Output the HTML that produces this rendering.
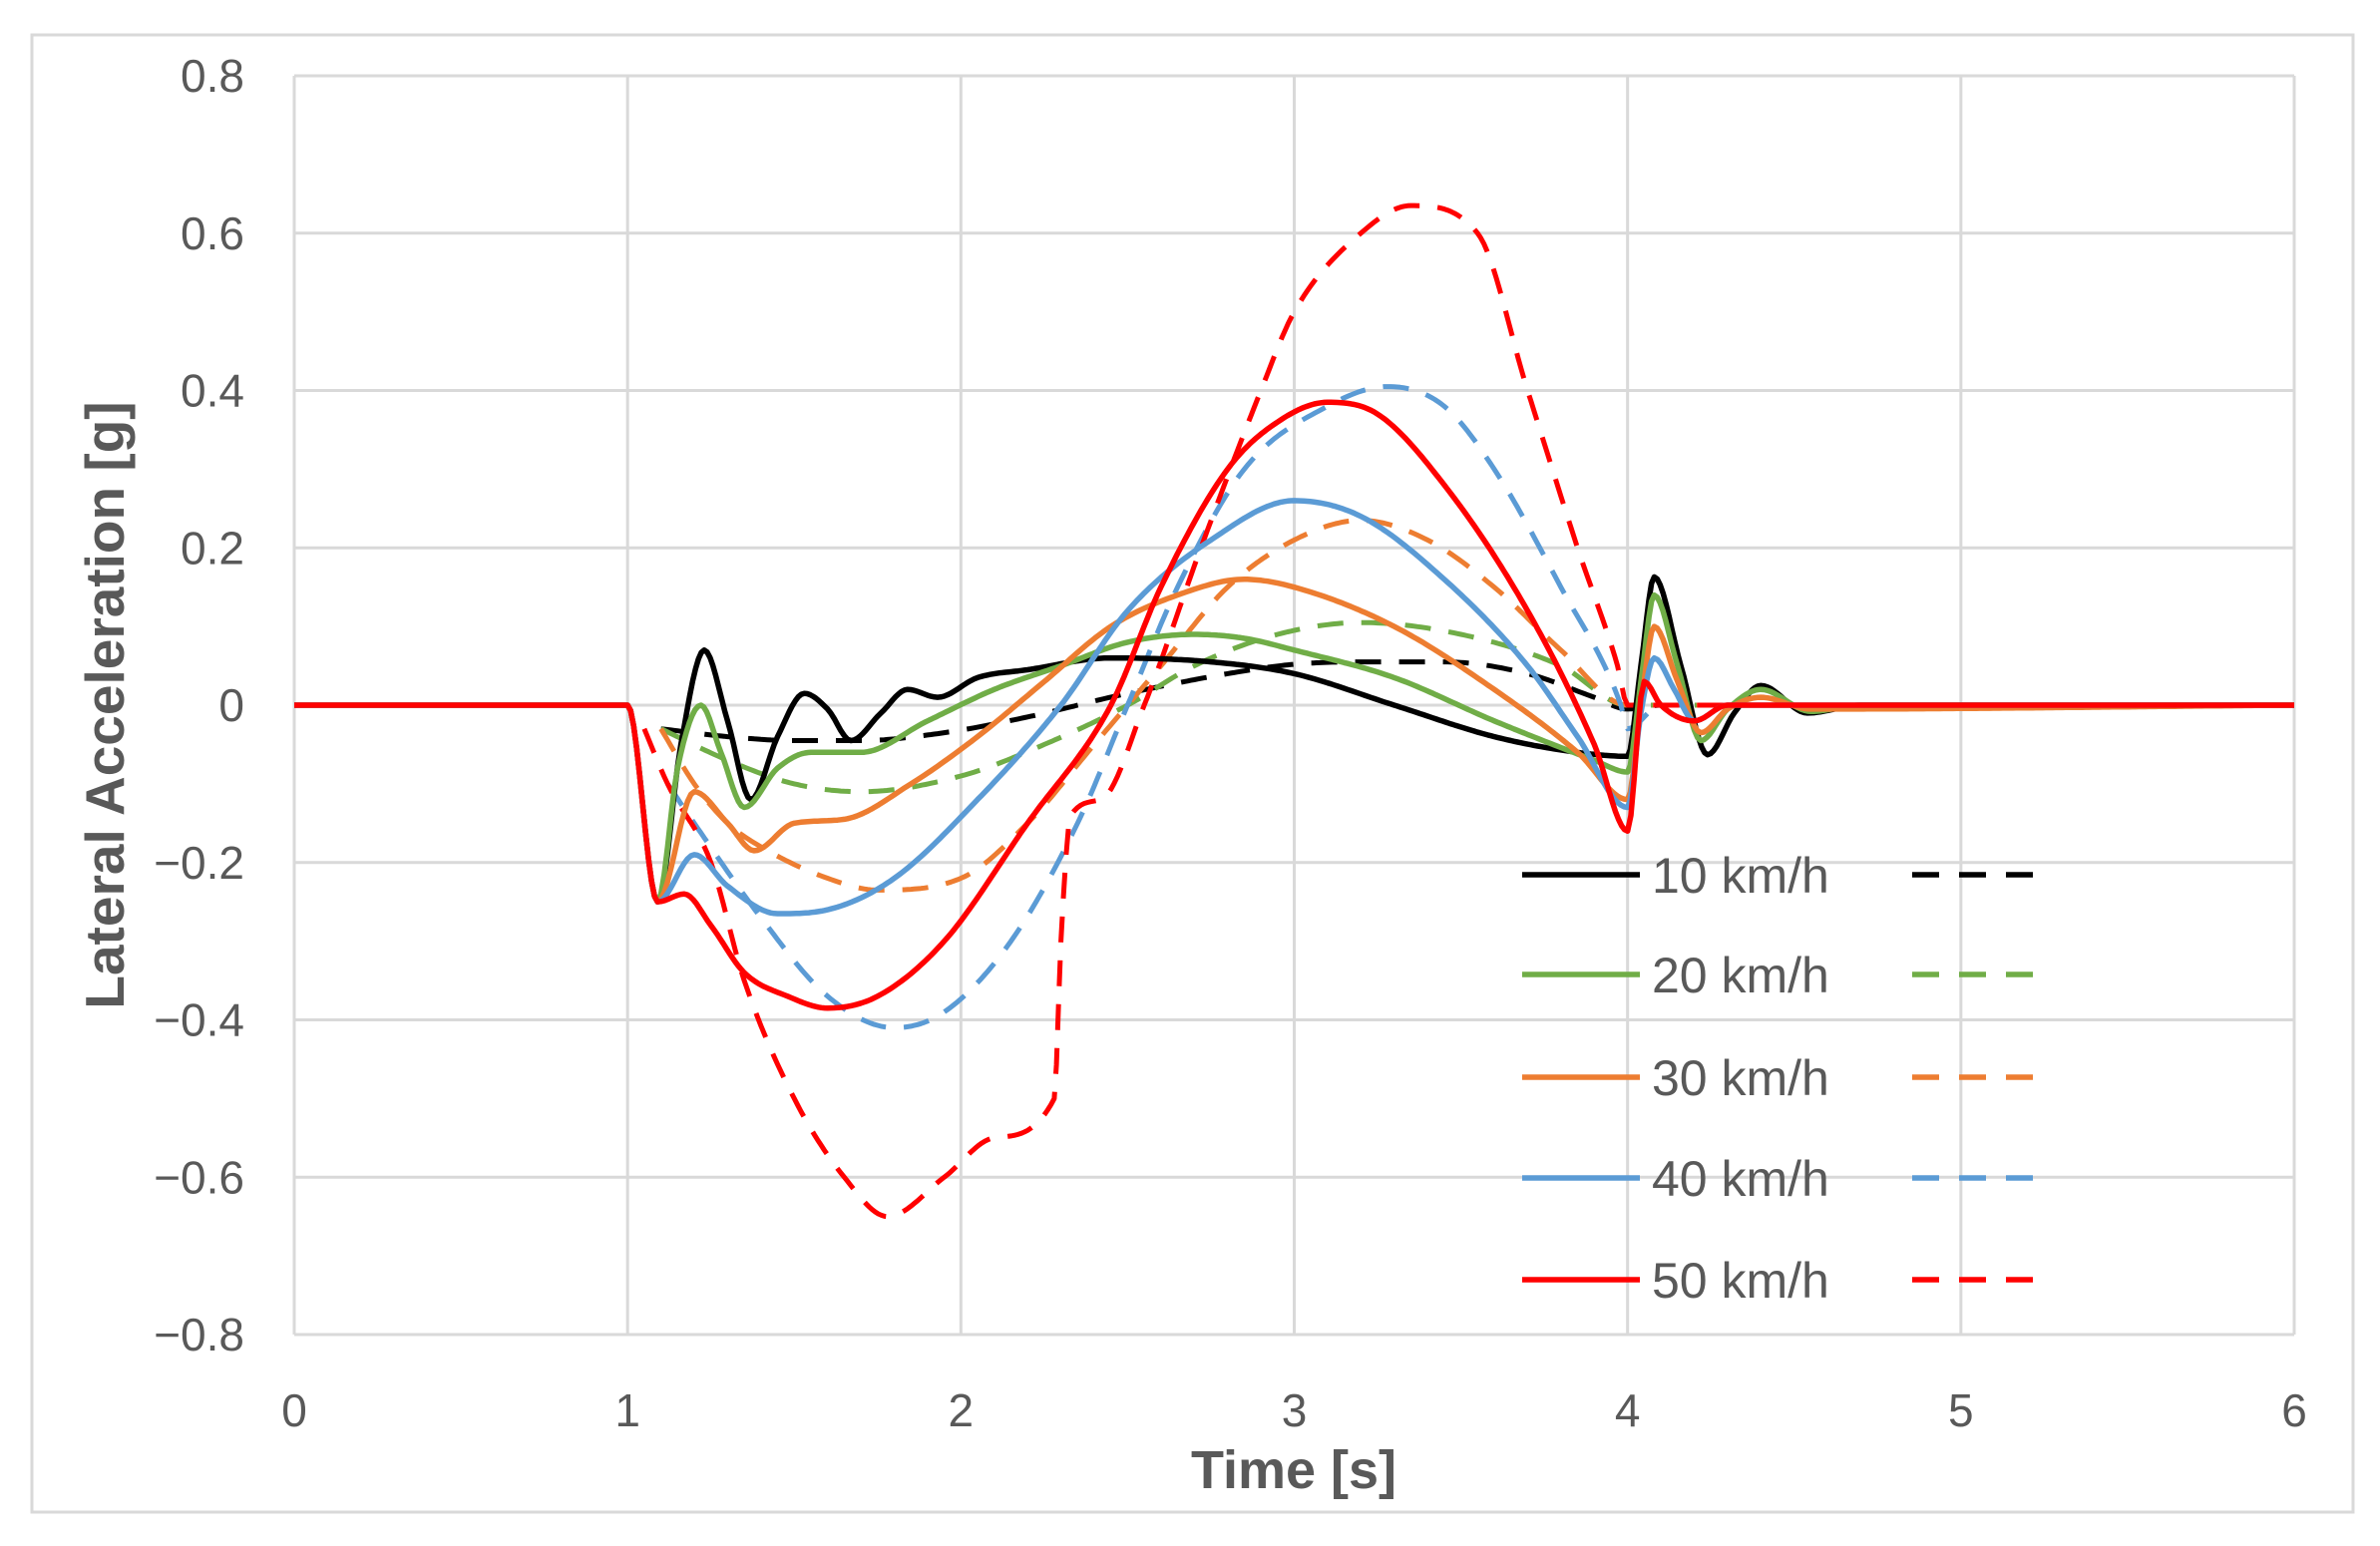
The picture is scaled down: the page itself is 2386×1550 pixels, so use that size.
<!DOCTYPE html>
<html><head><meta charset="utf-8"><style>
html,body{margin:0;padding:0;background:#fff;}
svg{display:block;font-family:"Liberation Sans",sans-serif;}
</style></head><body>
<svg id="chart" width="2386" height="1550" viewBox="0 0 2386 1550" xmlns="http://www.w3.org/2000/svg">
<rect x="32" y="35" width="2327" height="1481" fill="#fff" stroke="#d9d9d9" stroke-width="3"/>
<g id="grid"></g>
<g id="series"></g>
<g id="legend"></g>
<text transform="translate(124,707) rotate(-90)" text-anchor="middle" font-size="55" font-weight="bold" fill="#595959">Lateral Acceleration [g]</text>
<text x="1297" y="1492" text-anchor="middle" font-size="54" font-weight="bold" fill="#595959">Time [s]</text>
</svg>
<script>
const xTicks=[0,1,2,3,4,5,6];
const yTicks=[0.8,0.6,0.4,0.2,0,-0.2,-0.4,-0.6,-0.8];
const yTickLabels=["0.8","0.6","0.4","0.2","0","\u22120.2","\u22120.4","\u22120.6","\u22120.8"];
const legendLabels=["10 km/h","20 km/h","30 km/h","40 km/h","50 km/h"];
const colors=["#000000","#70AD47","#ED7D31","#5B9BD5","#FF0000"];
const s10t=[0,1.0,1.09,1.16,1.23,1.3,1.37,1.45,1.53,1.6,1.67,1.76,1.84,1.93,2.05,2.2,2.45,2.75,3.0,3.3,3.6,3.85,4.0,4.04,4.08,4.16,4.24,4.32,4.4,4.54,4.7,6];
const s10v=[0,0,-0.25,-0.05,0.07,-0.02,-0.12,-0.04,0.015,-0.005,-0.045,-0.01,0.02,0.01,0.035,0.045,0.06,0.055,0.04,0.0,-0.04,-0.06,-0.065,0.05,0.163,0.05,-0.063,-0.01,0.025,-0.01,0,0];
const d10t=[1.1,1.3,1.5,1.7,1.95,2.2,2.5,2.8,3.0,3.2,3.45,3.7,3.9,4.0,4.1,4.5];
const d10v=[-0.03,-0.04,-0.045,-0.045,-0.035,-0.015,0.015,0.04,0.052,0.055,0.055,0.04,0.01,-0.005,0,0];
const s20t=[0,1.0,1.09,1.15,1.22,1.28,1.35,1.45,1.55,1.7,1.9,2.1,2.3,2.5,2.7,2.85,3.0,3.3,3.6,3.9,4.0,4.04,4.08,4.15,4.22,4.3,4.4,4.55,4.7,6];
const s20v=[0,0,-0.25,-0.08,0.0,-0.06,-0.13,-0.08,-0.06,-0.06,-0.02,0.02,0.05,0.08,0.09,0.085,0.07,0.035,-0.02,-0.07,-0.085,0.03,0.14,0.05,-0.045,-0.005,0.02,-0.008,0,0];
const d20t=[1.1,1.3,1.5,1.7,2.0,2.25,2.5,2.7,2.95,3.2,3.5,3.8,4.0,4.1,4.5];
const d20v=[-0.03,-0.07,-0.1,-0.11,-0.09,-0.05,0.0,0.05,0.09,0.105,0.09,0.05,0.0,0,0];
const s30t=[0,1.0,1.09,1.2,1.3,1.38,1.5,1.65,1.85,2.05,2.25,2.45,2.65,2.85,3.0,3.3,3.6,3.85,4.0,4.04,4.08,4.15,4.22,4.3,4.4,4.55,6];
const s30v=[0,0,-0.25,-0.11,-0.15,-0.185,-0.15,-0.145,-0.1,-0.04,0.03,0.1,0.14,0.16,0.15,0.1,0.02,-0.06,-0.12,0.0,0.1,0.03,-0.035,-0.005,0.01,-0.005,0];
const d30t=[1.1,1.2,1.3,1.4,1.6,1.75,2.0,2.2,2.4,2.6,2.8,3.0,3.2,3.4,3.6,3.8,4.0,4.1,4.5];
const d30v=[-0.03,-0.1,-0.15,-0.18,-0.22,-0.235,-0.22,-0.15,-0.05,0.05,0.15,0.21,0.235,0.21,0.15,0.07,0.0,0,0];
const s40t=[0,1.0,1.09,1.2,1.3,1.45,1.6,1.8,2.05,2.3,2.5,2.75,3.0,3.2,3.45,3.7,3.85,4.0,4.04,4.08,4.14,4.2,4.3,6];
const s40v=[0,0,-0.25,-0.19,-0.23,-0.265,-0.26,-0.22,-0.12,0.0,0.12,0.21,0.26,0.24,0.16,0.05,-0.04,-0.13,-0.01,0.06,0.02,-0.02,0.0,0];
const d40t=[1.12,1.2,1.4,1.6,1.8,1.95,2.15,2.35,2.5,2.65,2.85,3.1,3.28,3.45,3.6,3.8,3.98,4.0,4.1,4.5];
const d40v=[-0.1,-0.15,-0.27,-0.37,-0.41,-0.39,-0.3,-0.15,0.0,0.15,0.3,0.38,0.405,0.38,0.3,0.15,0.0,-0.03,0,0];
const s50t=[0,1.0,1.09,1.17,1.25,1.35,1.48,1.6,1.75,1.95,2.2,2.45,2.6,2.8,2.95,3.1,3.25,3.45,3.7,3.9,4.0,4.05,4.1,4.2,4.3,6];
const s50v=[0,0,-0.25,-0.24,-0.28,-0.34,-0.37,-0.385,-0.37,-0.3,-0.15,0.0,0.15,0.3,0.36,0.385,0.37,0.28,0.12,-0.05,-0.16,0.03,0.0,-0.02,0.0,0];
const d50t=[1.05,1.12,1.25,1.35,1.5,1.65,1.78,1.95,2.1,2.28,2.3,2.33,2.42,2.55,2.72,2.9,3.0,3.2,3.35,3.55,3.7,3.85,3.97,4.0,4.1,4.5];
const d50v=[-0.03,-0.1,-0.2,-0.35,-0.5,-0.6,-0.65,-0.6,-0.55,-0.5,-0.3,-0.14,-0.12,0.0,0.2,0.4,0.5,0.6,0.635,0.6,0.4,0.2,0.05,0.0,0,0];

const NS="http://www.w3.org/2000/svg";
const X0=295,X1=2300,Y0=76,Y1=1338;
function xs(t){return X0+(t-0)/(6-0)*(X1-X0);}
function ys(v){return Y0+(0.8-v)/1.6*(Y1-Y0);}
function mk(tag,attrs,parent){const e=document.createElementNS(NS,tag);for(const k in attrs)e.setAttribute(k,attrs[k]);parent.appendChild(e);return e;}
const grid=document.getElementById('grid');
xTicks.forEach((t,i)=>{
  const l=mk('line',{x1:xs(t),x2:xs(t),y1:Y0,y2:Y1,stroke:'#d9d9d9','stroke-width':3},grid);
  
  
  const tx=mk('text',{x:xs(t),y:1430,'text-anchor':'middle','font-size':46,fill:'#595959'},grid);
  tx.textContent=String(t);
  
  
});
yTicks.forEach((v,i)=>{
  const l=mk('line',{x1:X0,x2:X1,y1:ys(v),y2:ys(v),stroke:'#d9d9d9','stroke-width':3},grid);
  
  
  const tx=mk('text',{x:245,y:ys(v)+16,'text-anchor':'end','font-size':46,fill:'#595959'},grid);
  tx.textContent=yTickLabels[i];
  
  
});
// monotone cubic (Fritsch-Carlson) interpolation sampled densely
function pathD(ts,vs){
  const n=ts.length,d=[],m=new Array(n);
  for(let i=0;i<n-1;i++)d.push((vs[i+1]-vs[i])/(ts[i+1]-ts[i]));
  m[0]=d[0];m[n-1]=d[n-2];
  for(let i=1;i<n-1;i++){m[i]=(d[i-1]*d[i]<=0)?0:(d[i-1]+d[i])/2;}
  for(let i=0;i<n-1;i++){
    if(d[i]===0){m[i]=0;m[i+1]=0;continue;}
    const a=m[i]/d[i],b=m[i+1]/d[i],s=a*a+b*b;
    if(s>9){const t=3/Math.sqrt(s);m[i]=t*a*d[i];m[i+1]=t*b*d[i];}
  }
  let out='M'+xs(ts[0]).toFixed(1)+','+ys(vs[0]).toFixed(1);
  for(let i=0;i<n-1;i++){
    const h=ts[i+1]-ts[i];
    const steps=Math.max(2,Math.ceil(h/0.01));
    for(let k=1;k<=steps;k++){
      const u=k/steps,u2=u*u,u3=u2*u;
      const v=(2*u3-3*u2+1)*vs[i]+(u3-2*u2+u)*h*m[i]+(-2*u3+3*u2)*vs[i+1]+(u3-u2)*h*m[i+1];
      out+=' L'+xs(ts[i]+u*h).toFixed(1)+','+ys(v).toFixed(1);
    }
  }
  return out;
}
const seriesG=document.getElementById('series');
const solids=[[s10t,s10v],[s20t,s20v],[s30t,s30v],[s40t,s40v],[s50t,s50v]];
const dashes=[[d10t,d10v],[d20t,d20v],[d30t,d30v],[d40t,d40v],[d50t,d50v]];
dashes.forEach((s,i)=>{
  const p=mk('path',{d:pathD(s[0],s[1]),fill:'none',stroke:colors[i],'stroke-width':5,'stroke-dasharray':'26 18','stroke-linejoin':'round'},seriesG);
  
  
});
solids.forEach((s,i)=>{
  const p=mk('path',{d:pathD(s[0],s[1]),fill:'none',stroke:colors[i],'stroke-width':5.5,'stroke-linejoin':'round'},seriesG);
  
  
});
const lg=document.getElementById('legend');
const rows=[877,977,1080,1181,1283];
legendLabels.forEach((lab,i)=>{
  const y=rows[i];
  const l=mk('line',{x1:1526,x2:1644,y1:y,y2:y,stroke:colors[i],'stroke-width':5.5},lg);
  
  
  const tx=mk('text',{x:1656,y:y+18,'font-size':50,fill:'#595959'},lg);
  tx.textContent=lab;
  
  
  const d=mk('line',{x1:1917,x2:2039,y1:y,y2:y,stroke:colors[i],'stroke-width':5.5,'stroke-dasharray':'27 20'},lg);
  
  
});
</script>
</body></html>
